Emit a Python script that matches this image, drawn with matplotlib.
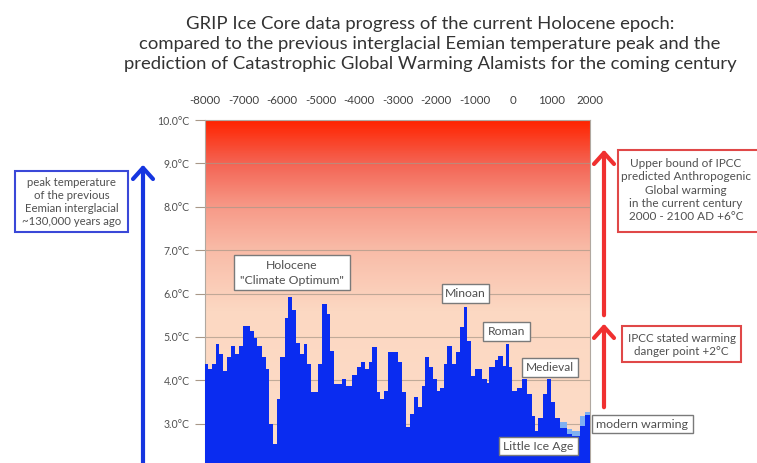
import numpy as np
import matplotlib
matplotlib.use("Agg")
import matplotlib.pyplot as plt
from matplotlib.colors import LinearSegmentedColormap
from matplotlib.patches import Rectangle, FancyArrowPatch

plt.rcParams['font.family'] = ['Lato', 'DejaVu Sans']

# ---------------- data ----------------
title = ("GRIP Ice Core data progress of the current Holocene epoch:\n"
         "compared to the previous interglacial Eemian temperature peak and the\n"
         "prediction of Catastrophic Global Warming Alamists for the coming century")

year_edges = [-8000, -7910, -7830, -7710, -7630, -7540, -7440, -7330, -7220, -7110,
              -7020, -6830, -6740, -6640, -6530, -6420, -6330, -6240, -6140, -6040,
              -5920, -5840, -5750, -5640, -5530, -5440, -5350, -5250, -5060, -4950,
              -4840, -4750, -4640, -4450, -4350, -4190, -4060, -3950, -3840, -3740,
              -3650, -3540, -3455, -3340, -3240, -2980, -2890, -2780, -2675, -2570,
              -2460, -2370, -2285, -2175, -2090, -1985, -1895, -1795, -1705, -1595,
              -1480, -1375, -1275, -1185, -1090, -985, -815, -685, -620, -470,
              -380, -250, -190, -105, -35, 95, 225, 355, 485, 570,
              660, 790, 875, 985, 1090, 1220, 1395, 1525, 1740, 1870, 2000]
temps = [4.37, 4.25, 4.37, 4.83, 4.60, 4.21, 4.53, 4.78, 4.60, 4.78,
         5.24, 5.13, 4.98, 4.78, 4.53, 4.25, 2.99, 2.53, 3.56, 4.53,
         5.43, 5.93, 5.63, 4.87, 4.60, 4.83, 4.37, 3.72, 4.37, 5.75,
         5.52, 4.67, 3.91, 4.02, 3.86, 4.13, 4.30, 4.41, 4.26, 4.43,
         4.76, 3.72, 3.56, 3.76, 4.64, 4.43, 3.72, 2.92, 3.22, 3.61,
         3.38, 3.86, 4.53, 4.30, 4.02, 3.76, 3.83, 4.37, 4.78, 4.37,
         4.64, 5.22, 5.70, 4.90, 4.09, 4.26, 4.03, 3.93, 4.30, 4.46,
         4.55, 4.33, 4.83, 4.30, 3.76, 3.83, 4.02, 3.68, 3.17, 2.83,
         3.13, 3.68, 4.02, 3.49, 3.13, 2.90, 2.75, 2.72, 2.95, 3.20]

# lighter blue (recent centuries, Little Ice Age / modern)
light_edges = [1220, 1395, 1525, 1740, 1870, 2000]
light_temps = [3.03, 2.87, 2.83, 3.17, 3.26]

x_ticks = [-8000, -7000, -6000, -5000, -4000, -3000, -2000, -1000, 0, 1000, 2000]
y_ticks = [2, 3, 4, 5, 6, 7, 8, 9, 10]
y_labels = ["", "3.0°C", "4.0°C", "5.0°C", "6.0°C", "7.0°C", "8.0°C", "9.0°C", "10.0°C"]

# ---------------- figure ----------------
W, H = 757, 463
fig = plt.figure(figsize=(W / 100, H / 100), dpi=100)
fig.patch.set_facecolor("white")

ax_left, ax_right = 205, 590
ax_top, ax_bot = 120, 467
ax = fig.add_axes([ax_left / W, (H - ax_bot) / H, (ax_right - ax_left) / W, (ax_bot - ax_top) / H])

# background gradient
cmap = LinearSegmentedColormap.from_list("bg", [
    (0.0, "#fddcc8"), (0.45, "#fcd8c2"), (0.5, "#fbd0bb"), (0.625, "#f9bca8"),
    (0.75, "#f79a88"), (0.875, "#f46555"), (1.0, "#ff2400")])
grad = np.linspace(0, 1, 400).reshape(-1, 1)
ax.imshow(grad, extent=[-8000, 2000, 2, 10], origin="lower", aspect="auto",
          cmap=cmap, zorder=0, interpolation="bicubic")

ax.set_axisbelow(True)
ax.grid(axis="y", color="#a89888", lw=0.8, alpha=0.7)

ax.stairs(light_temps, light_edges, baseline=0, fill=True, color="#7fb0f2", zorder=2)
ax.stairs(temps, year_edges, baseline=0, fill=True, color="#0a2cf0", zorder=3)

ax.set_xlim(-8000, 2000)
ax.set_ylim(2, 10)
ax.set_xticks(x_ticks)
ax.set_xticklabels([str(v) for v in x_ticks])
ax.xaxis.tick_top()
ax.tick_params(axis="x", length=0, pad=10, labelsize=8.3, labelcolor="#404040")
ax.set_yticks(y_ticks)
ax.set_yticklabels(y_labels)
ax.tick_params(axis="y", length=7, width=0.8, color="#a89888", pad=4,
               labelsize=7.6, labelcolor="#505050")
for s in ax.spines.values():
    s.set_color("#b0a8a0")
    s.set_linewidth(0.8)

# ---------------- overlay in pixel coords ----------------
ov = fig.add_axes([0, 0, 1, 1], zorder=5)
ov.set_xlim(0, W)
ov.set_ylim(H, 0)
ov.axis("off")
ov.patch.set_alpha(0)

ov.text(430, 44, title, ha="center", va="center", fontsize=13.3,
        color="#333333", linespacing=1.32)


def box(x0, y0, x1, y1, ec, lw=1.2):
    ov.add_patch(Rectangle((x0, y0), x1 - x0, y1 - y0, facecolor="white",
                           edgecolor=ec, lw=lw, zorder=6, clip_on=False))


def label(x, y, s, size=8, color="#505050", ls=1.3):
    ov.text(x, y, s, ha="center", va="center", fontsize=size, color=color,
            linespacing=ls, zorder=7)


# arrows
ov.add_patch(FancyArrowPatch((143, 475), (143, 162), arrowstyle="->,head_length=0.5,head_width=0.45",
                             mutation_scale=16, lw=3, color="#1535e0", zorder=6, clip_on=False))
ov.add_patch(FancyArrowPatch((604, 318), (604, 147), arrowstyle="->,head_length=0.5,head_width=0.45",
                             mutation_scale=16, lw=3, color="#f03030", zorder=6))
ov.add_patch(FancyArrowPatch((604, 410), (604, 321), arrowstyle="->,head_length=0.5,head_width=0.45",
                             mutation_scale=16, lw=3, color="#f03030", zorder=6))

# left blue box
box(15, 171, 128, 232, "#3a48d8", lw=1.5)
label(71.5, 202, "peak temperature\nof the previous\nEemian interglacial\n~130,000 years ago",
      size=8.2, ls=1.2)

# upper red box
box(618, 150, 770, 232, "#e04848", lw=1.5)
label(686, 190, "Upper bound of IPCC\npredicted Anthropogenic\nGlobal warming\nin the current century\n2000 - 2100 AD +6°C",
      size=8.5, ls=1.25)

# lower red box
box(622, 326, 741, 362, "#e04848", lw=1.5)
label(681.5, 345, "IPCC stated warming\ndanger point +2°C", size=8.4, ls=1.25)

# gray annotation boxes
gray = "#7a7a7a"
box(234, 255, 350, 290, gray, lw=1.0)
label(292, 273, "Holocene\n\"Climate Optimum\"", size=8.8, ls=1.35)
box(442, 284, 489, 303, gray, lw=1.0)
label(465.5, 293.5, "Minoan", size=8.8)
box(483, 322, 530, 341, gray, lw=1.0)
label(506.5, 331.5, "Roman", size=8.8)
box(522, 358, 578, 377, gray, lw=1.0)
label(550, 367.5, "Medieval", size=8.6)
box(499, 437, 578, 455, gray, lw=1.0)
label(538.5, 446, "Little Ice Age", size=8.8)
box(592, 415, 693, 433, gray, lw=1.0)
label(642.5, 424, "modern warming", size=8.9)

fig.savefig("out.png", dpi=100)
